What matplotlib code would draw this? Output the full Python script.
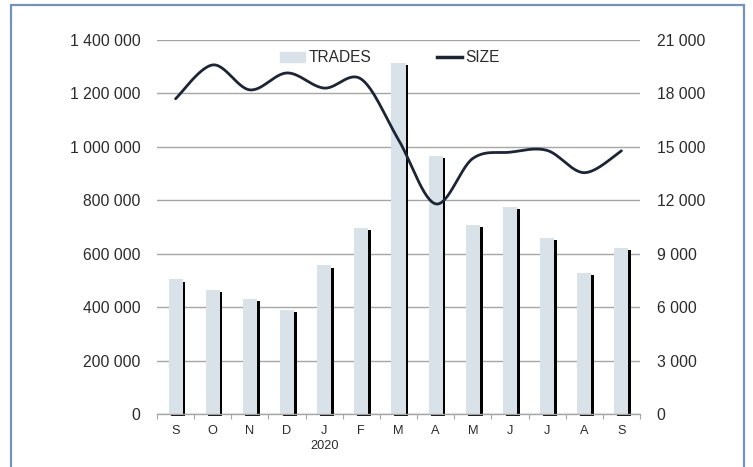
import numpy as np
import matplotlib
matplotlib.use("Agg")
import matplotlib.pyplot as plt
from matplotlib import patheffects as pe
from matplotlib.patches import Rectangle
from matplotlib.lines import Line2D
from matplotlib.ticker import FuncFormatter, FixedLocator

# data
months = ["S", "O", "N", "D", "J\n2020", "F", "M", "A", "M", "J", "J", "A", "S"]
trades = [504000, 466000, 432000, 391000, 556000, 697000, 1313000,
          966000, 708000, 776000, 660000, 527000, 621000]
size = [17700, 19600, 18200, 19150, 18300, 18800, 15400,
        11800, 14350, 14700, 14800, 13550, 14780]

bar_color = "#d9e1e9"
line_color = "#1c2535"
grid_color = "#a6a6a6"
text_color = "#2b2b2b"

plt.rcParams["font.family"] = ["Liberation Sans", "DejaVu Sans"]


def smooth(xs, ys, n=30):
    # catmull-rom style smoothing, like a spreadsheet "smoothed line"
    xs = np.asarray(xs, float)
    ys = np.asarray(ys, float)
    px = np.concatenate([[xs[0]], xs, [xs[-1]]])
    py = np.concatenate([[ys[0]], ys, [ys[-1]]])
    outx, outy = [], []
    t = np.linspace(0, 1, n)
    for i in range(1, len(px) - 2):
        p0 = np.array([px[i], py[i]])
        p3 = np.array([px[i + 1], py[i + 1]])
        c1 = p0 + (np.array([px[i + 1], py[i + 1]]) - np.array([px[i - 1], py[i - 1]])) / 6
        c2 = p3 - (np.array([px[i + 2], py[i + 2]]) - np.array([px[i], py[i]])) / 6
        b = (((1 - t) ** 3)[:, None] * p0 + (3 * (1 - t) ** 2 * t)[:, None] * c1
             + (3 * (1 - t) * t ** 2)[:, None] * c2 + (t ** 3)[:, None] * p3)
        outx.extend(b[:, 0])
        outy.extend(b[:, 1])
    return np.array(outx), np.array(outy)


def spaced(v, pos):
    return f"{int(round(v)):,}".replace(",", " ")


fig = plt.figure(figsize=(7.53, 4.67), dpi=100)
ax1 = fig.add_axes([157 / 753, 53 / 467, 483 / 753, 374 / 467])
ax2 = ax1.twinx()

x = np.arange(len(months))
bars = ax1.bar(x, trades, width=0.38, color=bar_color, zorder=2, clip_on=False)
for b in bars:
    b.set_path_effects([pe.SimplePatchShadow(offset=(1.9, -1.6), shadow_rgbFace="black", alpha=1.0),
                        pe.Normal()])

sx, sy = smooth(x, size)
ax2.plot(sx, sy, color=line_color, lw=2.0, solid_capstyle="round")

ax1.set_xlim(-0.5, len(months) - 0.5)
ax1.set_ylim(0, 1400000)
ax2.set_ylim(0, 21000)
ax1.set_yticks(np.arange(0, 1400001, 200000))
ax2.set_yticks(np.arange(0, 21001, 3000))
ax1.yaxis.set_major_formatter(FuncFormatter(spaced))
ax2.yaxis.set_major_formatter(FuncFormatter(spaced))

ax1.set_axisbelow(True)
ax1.grid(axis="y", color=grid_color, lw=1.0)
ax1.set_xticks(x)
ax1.set_xticklabels(months, linespacing=1.35)
ax1.xaxis.set_minor_locator(FixedLocator(np.arange(-0.5, len(months), 1.0)))
ax1.tick_params(axis="x", which="major", length=0, pad=8, labelsize=9.2, colors=text_color)
ax1.tick_params(axis="x", which="minor", length=3.5, width=0.8, color=grid_color, direction="out")
ax1.tick_params(axis="y", length=0, pad=12, labelsize=11.3, colors=text_color)
ax2.tick_params(axis="y", length=0, pad=12, labelsize=11.3, colors=text_color)

for ax in (ax1, ax2):
    for side in ("top", "left", "right"):
        ax.spines[side].set_visible(False)
ax1.spines["bottom"].set_color(grid_color)
ax1.spines["bottom"].set_linewidth(1.0)
ax2.spines["bottom"].set_visible(False)

handles = [Rectangle((0, 0), 1, 1, color=bar_color),
           Line2D([0], [0], color=line_color, lw=2.5)]
leg = ax2.legend(handles, ["TRADES", "SIZE"], loc="center", bbox_to_anchor=(0.482, 0.952),
                 ncol=2, frameon=False, fontsize=11.2, handlelength=1.6, handleheight=0.6,
                 handletextpad=0.25, columnspacing=4.2, borderpad=0.0)
for t in leg.get_texts():
    t.set_color(text_color)

# blue frame around the chart
fig.patches.append(Rectangle((11 / 753, -0.1), 733 / 753, 1.1 - 5 / 467, transform=fig.transFigure,
                             fill=False, edgecolor="#7393bb", lw=1.6))

fig.savefig("out.png", dpi=100)
